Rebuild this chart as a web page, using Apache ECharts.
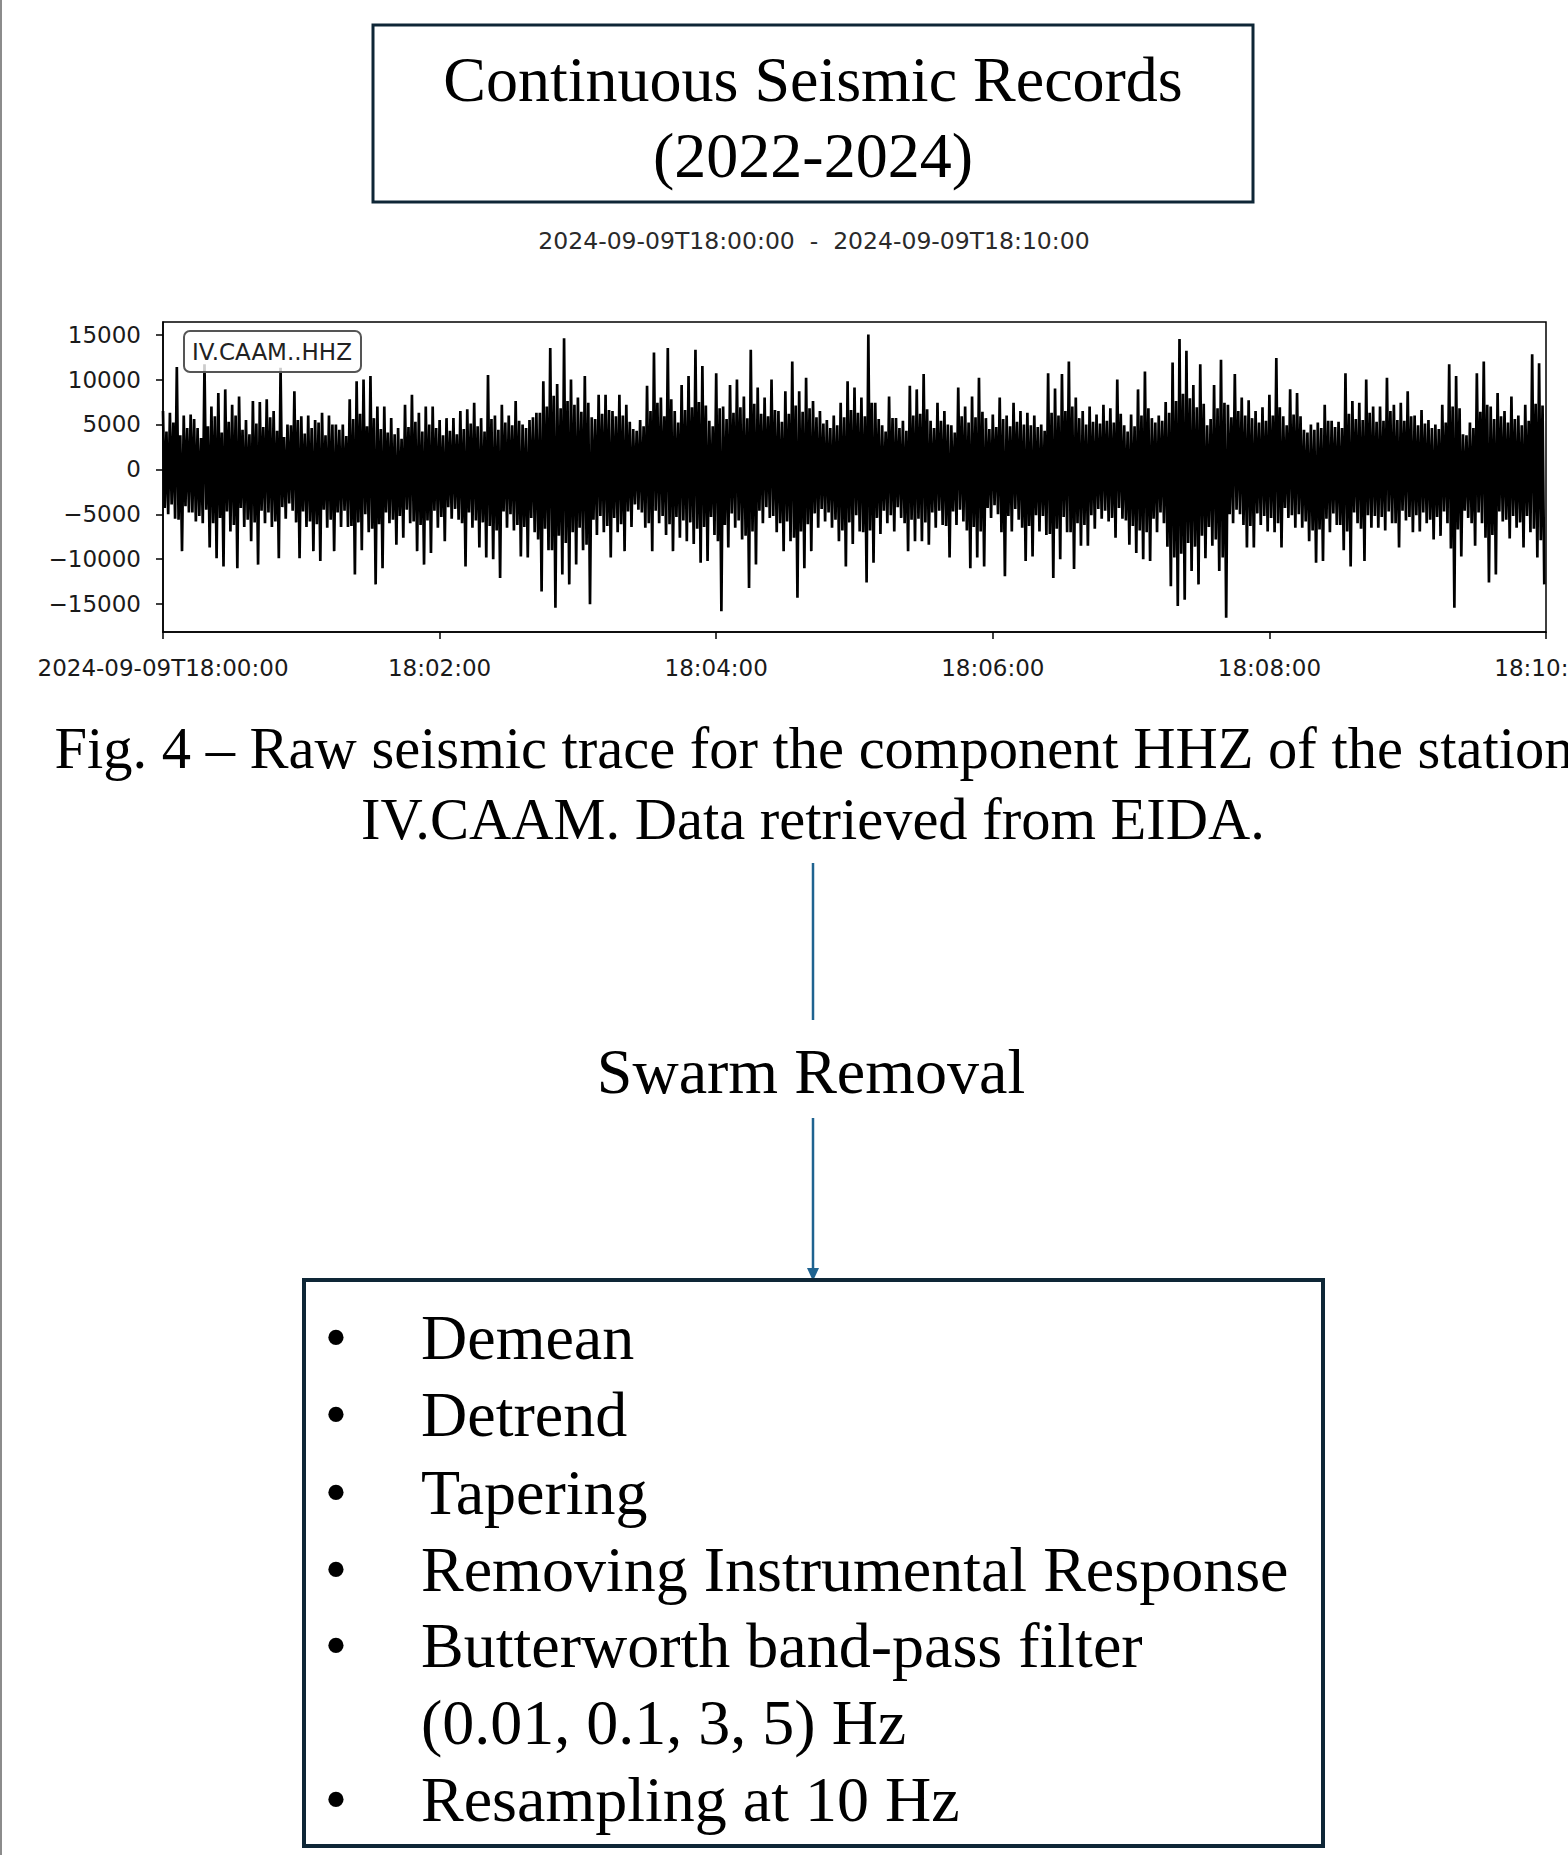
<!DOCTYPE html>
<html>
<head>
<meta charset="utf-8">
<script src="https://cdn.jsdelivr.net/npm/echarts@6/dist/echarts.min.js"></script>
<style>
html,body{margin:0;padding:0;background:#fff;}
#c{width:1568px;height:1855px;}
</style>
</head>
<body>
<div id="c"></div>
<script>
// ---- data (counts) ----
// In each 3-second window (18:00:00 -> 18:10:00): the main peak (HI) and trough (LO),
// plus the secondary oscillation peak (HI2) and trough (LO2) that form the dense core.
const BIN_SEC = 3;
const TRACE_HI = [
6500,6300,11400,6000,6100,4600,11700,7000,8500,8900,
7200,8100,5500,7600,7500,7800,6500,11300,5000,8700,
5900,6000,5500,6300,6000,5000,5000,7800,9800,10000,
10400,7000,7000,5700,4600,7200,8300,6300,7000,7000,
5500,5700,5700,6500,6700,7400,5700,10500,6000,7200,
6000,7600,5000,5500,6300,9800,13500,9500,14600,10000,
8000,10400,5800,8300,8300,6500,8300,7200,4500,5500,
9300,13000,8000,13500,6500,9400,10400,13300,11500,5400,
10700,7000,9400,10000,8100,13300,9100,8000,10000,6500,
8700,12000,8700,10200,7600,6500,5500,6000,7400,9800,
9100,8000,15000,7400,4900,8100,5700,5400,9300,8900,
10600,5400,7400,6500,4900,9100,7000,8100,10200,5700,
6100,8000,6000,7400,6500,6300,6000,5000,10700,9000,
10600,12000,8000,6500,7000,6100,7200,6800,10000,4900,
6100,8900,10900,5700,6000,7500,11900,14500,13200,9400,
11700,4900,9400,12200,7200,10600,8000,7700,6500,6900,
8300,12400,5900,8900,8500,4400,5000,5200,7200,5400,
5300,10700,7600,7400,10000,7000,7000,10200,7200,7400,
8700,6000,6600,5500,5000,7200,11700,10400,3900,5200,
10700,12000,7000,8500,6500,8100,6000,7200,12800,11800
];
const TRACE_LO = [
-5000,-5500,-9100,-4800,-5800,-6000,-8700,-9900,-10800,-6900,
-11000,-6400,-8000,-10600,-6000,-6400,-9900,-5500,-4600,-9900,
-6400,-9100,-10200,-6500,-9100,-6400,-6400,-11700,-9000,-7000,
-12800,-11000,-6000,-8400,-7600,-6000,-9100,-10600,-9300,-6500,
-8000,-5500,-5600,-10800,-6500,-8700,-9800,-10000,-12100,-6500,
-6800,-9700,-9800,-7000,-13600,-9000,-15400,-11700,-12800,-10600,
-9000,-15000,-7300,-7000,-9800,-7000,-9100,-6400,-4500,-6500,
-9100,-6000,-7300,-9100,-7600,-8000,-8300,-10400,-10200,-7300,
-15800,-8700,-6500,-7800,-13200,-10600,-6000,-5400,-7000,-9100,
-8000,-14300,-11000,-9100,-6500,-5800,-6500,-8000,-10800,-8300,
-6900,-12600,-10400,-7200,-6000,-6900,-5400,-9100,-8000,-8000,
-8400,-6500,-6200,-9800,-6200,-5800,-11000,-9800,-10800,-5400,
-5000,-11900,-6900,-5600,-10200,-9700,-6900,-7300,-12100,-10000,
-7000,-11100,-8500,-8500,-6600,-5500,-5800,-7600,-5500,-8400,
-9300,-10000,-10200,-7000,-6000,-13000,-15200,-14500,-11300,-12800,
-9900,-8500,-11300,-16500,-6000,-5000,-8700,-8700,-6200,-6900,
-7000,-8700,-5400,-6500,-6500,-8000,-10400,-10200,-7000,-6200,
-9000,-10800,-6000,-10200,-6500,-6500,-6800,-6000,-8700,-5700,
-7000,-6900,-6000,-7800,-7400,-6000,-15400,-9700,-5400,-8500,
-6000,-12600,-11700,-5800,-7700,-6500,-8700,-7000,-9800,-12800
];
const TRACE_HI2 = [
4200,5200,3800,4600,5600,3500,4800,5900,4100,5300,
6000,4400,3900,5100,4700,5800,4300,3600,4900,5500,
4000,4600,5200,3800,5000,4400,3700,5600,6200,4800,
5700,4500,4100,3900,3400,4700,5300,4200,5000,4600,
3800,4300,3900,4500,5100,4800,4200,5600,4400,5200,
4900,5400,4600,5800,6300,7000,8200,6800,7600,7200,
6400,7400,5600,6200,6600,5900,6000,5300,4300,4800,
6500,7400,5900,7800,5200,6600,6900,7500,7100,4800,
6800,5600,6300,6900,5700,7300,6200,5900,6600,5300,
6200,7100,6400,6800,5800,5100,4600,4900,5800,6600,
6300,5900,7400,5600,4200,5700,4600,4300,6000,6200,
6700,4600,5400,5000,4100,5900,5200,5800,6400,4500,
4700,5600,4800,5300,5000,4900,4700,4300,6300,6000,
6500,7000,5700,5000,5300,5100,5400,5200,6200,4200,
4800,6000,6800,5200,5400,6300,7600,8400,7900,6900,
7300,5600,6800,7400,5800,6500,6000,5700,5200,5400,
6000,6900,4900,6100,5900,4100,4400,4600,5400,4700,
4600,6200,5600,5500,6300,5300,5400,6500,5500,5400,
5900,4900,5100,4600,4500,5200,7000,6800,3800,4600,
6400,7200,5600,5900,5200,5600,4900,5400,7300,7100
];
const TRACE_LO2 = [
-4300,-3900,-5600,-4100,-4800,-5200,-4500,-6000,-5400,-4700,
-6200,-4300,-5600,-5900,-4600,-4800,-5800,-4200,-3800,-5900,
-4700,-5800,-6100,-4500,-5600,-4800,-4600,-6300,-5900,-5000,
-6600,-6100,-4800,-5600,-5200,-4500,-5800,-6200,-5700,-4600,
-5300,-4200,-4400,-6000,-4800,-5700,-5900,-6300,-6800,-4700,
-5000,-6200,-6400,-5400,-7800,-6600,-9000,-7400,-8200,-7000,
-6500,-8400,-5600,-5200,-6300,-5400,-6100,-4700,-3900,-4800,
-6000,-4600,-5200,-6100,-5300,-5700,-5900,-6600,-6400,-5300,
-8000,-6200,-4900,-5700,-7400,-6900,-4600,-4200,-5200,-6000,
-5800,-7600,-6900,-6100,-4900,-4400,-4800,-5600,-6800,-5900,
-5100,-7000,-6800,-5400,-4600,-5100,-4200,-6000,-5600,-5500,
-5900,-4800,-4600,-6300,-4700,-4500,-6800,-6400,-6900,-4300,
-4000,-7000,-5200,-4400,-6500,-6300,-5100,-5200,-7200,-6600,
-5300,-7000,-6000,-6200,-5100,-4400,-4600,-5400,-4300,-5700,
-6300,-6800,-7000,-5500,-4800,-8600,-9800,-9400,-8200,-8600,
-7400,-6400,-7800,-9800,-5000,-4500,-6200,-6300,-4900,-5200,
-5400,-6000,-4300,-5100,-5000,-5800,-6800,-6700,-5500,-4900,
-6200,-6900,-4800,-6600,-5100,-5200,-5300,-4700,-6000,-4600,
-5300,-5100,-4800,-5600,-5300,-4700,-8800,-6700,-4600,-6000,
-4800,-7600,-7300,-4700,-5600,-5200,-5900,-5200,-6600,-7900
];

const X_TICK_LABELS = ['2024-09-09T18:00:00','18:02:00','18:04:00','18:06:00','18:08:00','18:10:00'];
const Y_TICKS = [-15000,-10000,-5000,0,5000,10000,15000];

const TITLE_LINES = ['Continuous Seismic Records','(2022-2024)'];
const TIME_RANGE = '2024-09-09T18:00:00  -  2024-09-09T18:10:00';
const TRACE_LABEL = 'IV.CAAM..HHZ';
const CAPTION_LINES = ['Fig. 4 \u2013 Raw seismic trace for the component HHZ of the station','IV.CAAM. Data retrieved from EIDA.'];
const STEP_LABEL = 'Swarm Removal';
const BULLETS = [
  {bullet:true, text:'Demean'},
  {bullet:true, text:'Detrend'},
  {bullet:true, text:'Tapering'},
  {bullet:true, text:'Removing Instrumental Response'},
  {bullet:true, text:'Butterworth band-pass filter'},
  {bullet:false, text:'(0.01, 0.1, 3, 5) Hz'},
  {bullet:true, text:'Resampling at 10 Hz'}
];

// ---- build the trace: up/down sequence inside each window ----
const trace = [];
for (let i = 0; i < TRACE_HI.length; i++) {
  const t0 = i * BIN_SEC;
  trace.push([t0, TRACE_HI[i]]);
  trace.push([t0 + BIN_SEC * 0.25, TRACE_LO2[i]]);
  trace.push([t0 + BIN_SEC * 0.5, TRACE_HI2[i]]);
  trace.push([t0 + BIN_SEC * 0.75, TRACE_LO[i]]);
}

const SERIF = '"Liberation Serif","Times New Roman",serif';
const SANS = '"DejaVu Sans",sans-serif';
const NAVY = '#0e2636';
const ARROW = '#1f6390';

function txt(text, x, y, size, family, align, color) {
  return {
    type: 'text', z: 50,
    style: {
      text: text, x: x, y: y,
      font: size + 'px ' + family,
      fill: color || '#000',
      align: align || 'center', textAlign: align || 'center',
      verticalAlign: 'middle', textVerticalAlign: 'middle'
    }
  };
}

const graphics = [];
graphics.push({type:'rect', z: 50, shape:{x:0,y:0,width:2,height:1855}, style:{fill:'#8c8c8c'}});
graphics.push({type:'rect', z: 50, shape:{x:373,y:25,width:880,height:177}, style:{fill:'none', stroke:NAVY, lineWidth:3}});
graphics.push(txt(TITLE_LINES[0], 813, 79, 64, SERIF));
graphics.push(txt(TITLE_LINES[1], 813, 155, 64, SERIF));
graphics.push(txt(TIME_RANGE, 814, 241, 23.5, SANS, 'center', '#2a2a2a'));
graphics.push({type:'rect', z: 60, shape:{x:184,y:331,width:177,height:41,r:6}, style:{fill:'rgba(255,255,255,0.8)', stroke:'#555', lineWidth:2}});
graphics.push(Object.assign(txt(TRACE_LABEL, 272, 352, 23, SANS, 'center', '#222'), {z: 61}));
graphics.push(txt(CAPTION_LINES[0], 814, 748, 58.5, SERIF));
graphics.push(txt(CAPTION_LINES[1], 813, 819, 58.5, SERIF));
graphics.push({type:'line', z: 50, shape:{x1:813,y1:863,x2:813,y2:1020}, style:{stroke:ARROW, lineWidth:2.5}});
graphics.push(txt(STEP_LABEL, 811, 1071, 64, SERIF));
graphics.push({type:'line', z: 50, shape:{x1:813,y1:1118,x2:813,y2:1272}, style:{stroke:ARROW, lineWidth:2.5}});
graphics.push({type:'polygon', z: 50, shape:{points:[[807,1268],[819,1268],[813,1281]]}, style:{fill:ARROW}});
graphics.push({type:'rect', z: 50, shape:{x:304,y:1280,width:1019,height:566}, style:{fill:'none', stroke:NAVY, lineWidth:4}});
const rowY = [1337,1414,1492,1569,1645,1722,1799];
BULLETS.forEach((b, i) => {
  if (b.bullet) graphics.push(txt('\u2022', 336, rowY[i], 64, SERIF));
  graphics.push(txt(b.text, 421, rowY[i], 64, SERIF, 'left'));
});

const chart = echarts.init(document.getElementById('c'), null, {renderer:'svg', width:1568, height:1855});
chart.setOption({
  animation: false,
  backgroundColor: '#fff',
  grid: {left:163, top:322, width:1383, height:310, containLabel:false, outerBoundsMode:'none',
         show:true, borderColor:'#000', borderWidth:1.5, backgroundColor:'transparent'},
  xAxis: {
    type:'value', min:0, max:600, interval:120,
    axisLine:{show:true, onZero:false, lineStyle:{color:'#000', width:1.5}},
    axisTick:{show:true, length:7, lineStyle:{color:'#000', width:1.5}},
    axisLabel:{show:true, margin:24, color:'#1a1a1a', fontFamily:'DejaVu Sans', fontSize:23, showMinLabel:true, showMaxLabel:true,
      formatter: v => X_TICK_LABELS[Math.round(v / 120)]},
    splitLine:{show:false}
  },
  yAxis: {
    type:'value', min:-18100, max:16400,
    axisLine:{show:true, onZero:false, lineStyle:{color:'#000', width:1.5}},
    axisTick:{show:true, length:7, customValues:Y_TICKS, lineStyle:{color:'#000', width:1.5}},
    axisLabel:{show:true, margin:22, color:'#1a1a1a', fontFamily:'DejaVu Sans', fontSize:23, customValues:Y_TICKS,
      formatter: v => v < 0 ? '\u2212' + Math.abs(v) : String(v)},
    splitLine:{show:false}
  },
  series: [
    {type:'line', data:trace, showSymbol:false, sampling:null, lineStyle:{color:'#000', width:2.7}, z:3, silent:true}
  ],
  graphic: {elements: graphics}
});
</script>
</body>
</html>
